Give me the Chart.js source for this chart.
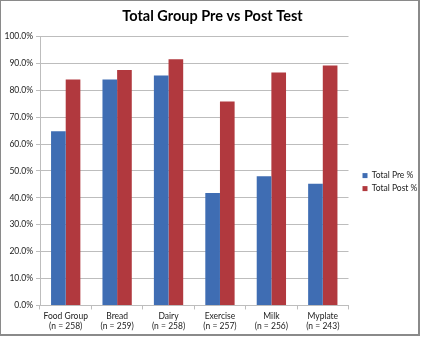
<!DOCTYPE html>
<html>
<head>
<meta charset="utf-8">
<script src="https://cdn.jsdelivr.net/npm/chart.js@4/dist/chart.umd.min.js"></script>
<style>
  html, body { margin: 0; padding: 0; background: #fff; }
  #wrap { width: 421px; height: 337px; position: relative; }
</style>
</head>
<body>
<div id="wrap"><canvas id="c" width="421" height="337"></canvas></div>
<script>
// Test topics with respondent counts
const categories = [
  ['Food Group', '(n = 258)'],
  ['Bread', '(n = 259)'],
  ['Dairy', '(n = 258)'],
  ['Exercise', '(n = 257)'],
  ['Milk', '(n = 256)'],
  ['Myplate', '(n = 243)']
];
const seriesNames = ['Total Pre %', 'Total Post %'];
const preValues  = [64.7, 84.0, 85.5, 41.8, 48.0, 45.2];
const postValues = [84.0, 87.5, 91.5, 75.8, 86.6, 89.2];
const yTickStep = 10;

const FONT = 'Lato, "Open Sans", "Liberation Sans", sans-serif';
const GRID = '#BDBDBD';

// Grey frame around the whole chart
const framePlugin = {
  id: 'frame',
  beforeDraw(chart) {
    const ctx = chart.ctx;
    ctx.save();
    ctx.fillStyle = '#fff';
    ctx.fillRect(0, 0, chart.width, chart.height);
    ctx.strokeStyle = '#8A8A8A';
    ctx.lineWidth = 2;
    ctx.strokeRect(0, 0, chart.width - 2, chart.height - 2);
    ctx.restore();
  }
};

new Chart(document.getElementById('c'), {
  type: 'bar',
  data: {
    labels: categories,
    datasets: [
      { label: seriesNames[0], data: preValues,  backgroundColor: '#3F6DB3', borderWidth: 0 },
      { label: seriesNames[1], data: postValues, backgroundColor: '#B1393E', borderWidth: 0 }
    ]
  },
  options: {
    responsive: false,
    animation: false,
    devicePixelRatio: 1,
    layout: { padding: { left: 4, right: 0, top: 0, bottom: 4 } },
    datasets: { bar: { categoryPercentage: 0.57, barPercentage: 1.0 } },
    plugins: {
      title: {
        display: true,
        text: 'Total Group Pre vs Post Test',
        color: '#000',
        font: { family: FONT, size: 14.5, weight: 'bold' },
        padding: { top: 8, bottom: 11 }
      },
      legend: {
        position: 'right',
        maxWidth: 63,
        // empty heading only lowers the legend block a little
        title: { display: true, text: '', font: { size: 1 }, padding: { top: 30, bottom: 0 } },
        labels: {
          color: '#222',
          font: { family: FONT, size: 8.5 },
          boxWidth: 5,
          boxHeight: 5,
          padding: 4.5
        }
      },
      tooltip: { enabled: false }
    },
    scales: {
      x: {
        grid: { drawOnChartArea: false, drawTicks: true, tickLength: 4, color: GRID, offset: true },
        border: { display: true, color: GRID },
        ticks: { color: '#222', font: { family: FONT, size: 8.5, lineHeight: 1.15 }, padding: 2, maxRotation: 0, autoSkip: false }
      },
      y: {
        min: 0,
        max: 100,
        grid: { color: GRID, tickLength: 4, drawTicks: true },
        border: { display: true, color: GRID },
        ticks: {
          stepSize: yTickStep,
          color: '#222',
          font: { family: FONT, size: 8.5 },
          padding: 3,
          callback: v => v.toFixed(1) + '%'
        },
        afterFit: s => { s.width = 36; }
      },
      gap: {
        position: 'right',
        display: true,
        grid: { display: false },
        border: { display: false },
        ticks: { display: false },
        afterFit: s => { s.width = 9.5; }
      }
    }
  },
  plugins: [framePlugin]
});
</script>
</body>
</html>
